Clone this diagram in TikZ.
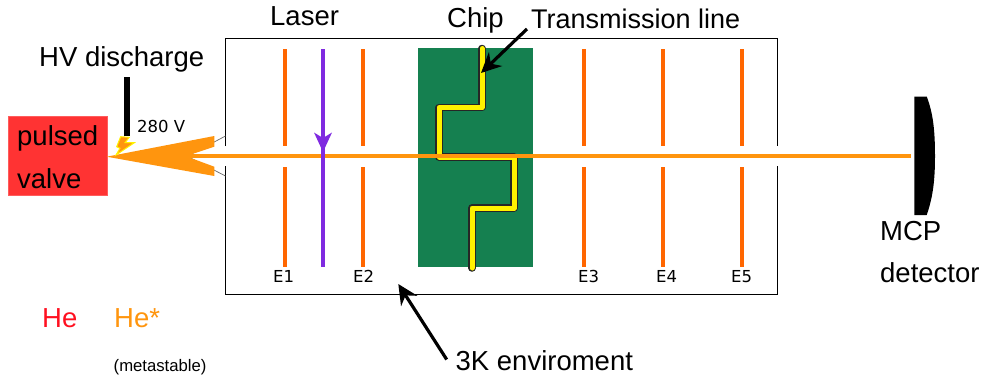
\documentclass[tikz,border=0pt]{standalone}
\usepackage{fontspec}
\setmainfont{Liberation Sans}
\newfontfamily\dejavu{DejaVu Sans}
\usetikzlibrary{arrows.meta}
\definecolor{electrode}{HTML}{FF6600}
\definecolor{beam}{HTML}{FF950E}
\definecolor{laserc}{HTML}{7F2AE0}
\definecolor{chipc}{HTML}{158050}
\definecolor{valvec}{HTML}{FF3333}
\definecolor{hered}{HTML}{FF1020}
\tikzset{
  x=1pt,y=-1pt,
  label24/.style={inner sep=0pt,anchor=base west,font=\fontsize{27.5}{27.5}\selectfont},
  small/.style={inner sep=0pt,anchor=base west,font=\dejavu\fontsize{16.5}{16.5}\selectfont},
  plate/.style={electrode,line width=4pt},
  callout/.style={black,line width=3.2pt,-{Stealth[length=20pt,width=19pt]}},
}
\begin{document}
\begin{tikzpicture}
\useasboundingbox (0,0) rectangle (983,378);
% cryostat box
\coordinate (b1) at (225.5,146);
\coordinate (b2) at (225.5,38);
\coordinate (b3) at (777.5,38);
\coordinate (b4) at (777.5,146);
\coordinate (b5) at (777.5,166);
\coordinate (b6) at (777.5,294.5);
\coordinate (b7) at (225.5,294.5);
\coordinate (b8) at (225.5,166);
\draw[black,line width=.9pt] (b1)--(b2)--(b3)--(b4);
\draw[black,line width=.9pt] (b5)--(b6)--(b7)--(b8);
\coordinate (s1) at (225.5,136);
\coordinate (s2) at (190.7,154.5);
\coordinate (s3) at (190.7,158);
\coordinate (s4) at (225.5,176);
\draw[black!60,line width=.7pt] (s1)--(s2);
\draw[black!60,line width=.7pt] (s3)--(s4);
% chip
\fill[chipc] (417.5,48) rectangle (532.5,267);
% transmission line
\coordinate (t1) at (482,48.5);
\coordinate (t2) at (482,107.5);
\coordinate (t3) at (439,107.5);
\coordinate (t4) at (439,157);
\coordinate (t5) at (514,157);
\coordinate (t6) at (514,208);
\coordinate (t7) at (472,208);
\coordinate (t8) at (472,268);
\draw[black!85,line width=7.5pt,line cap=round,line join=round] (t1)--(t2)--(t3)--(t4)--(t5)--(t6)--(t7)--(t8);
\draw[yellow,line width=5pt,line cap=round,line join=round] (t1)--(t2)--(t3)--(t4)--(t5)--(t6)--(t7)--(t8);
% electrodes
\foreach \n/\x in {1/284.7,2/362.7,3/584.2,4/662.7,5/741.7}{
  \coordinate (ea\n) at (\x,49);
  \coordinate (eb\n) at (\x,146);
  \coordinate (ec\n) at (\x,167);
  \coordinate (ed\n) at (\x,267);
  \draw[plate] (ea\n)--(eb\n);
  \draw[plate] (ec\n)--(ed\n);
}
% valve
\node[fill=valvec,draw=valvec!80!white,line width=.5pt,minimum width=99pt,minimum height=79pt,inner sep=0pt] (valve) at (57.5,155.5) {};
\node[label24] (pv1) at (17,145.5) {pulsed};
\node[label24] (pv2) at (17,188) {valve};
% beam
\coordinate (bm1) at (190,156);
\coordinate (bm2) at (910.7,156);
\draw[beam,line width=4.8pt] (bm1)--(bm2);
\path[fill=beam] (106.7,156.7)--(214.3,136)--(214.3,146.7)--(190.7,154.5)--(190.7,158)--(214.3,166.7)--(214.3,176)--cycle;
% laser
\coordinate (l1) at (323,49);
\coordinate (l2) at (323,267);
\coordinate (l3) at (323,152);
\draw[laserc,line width=4pt] (l1)--(l2);
\fill[laserc] (l3)--(314,132.5)--(323,138)--(332,132.5)--cycle;
% HV needle and spark
\coordinate (n1) at (127,77);
\coordinate (n2) at (127,136);
\draw[black,line width=5.5pt] (n1)--(n2);
\path[fill=beam,draw=yellow,line width=1pt] (120.7,136.7)--(129.3,137.3)--(125,142.7)--(134.3,142.7)--(116,155)--(120,148.3)--(116.7,146.7)--cycle;
% detector
\path[fill=black] (914.3,96.5) -- (926.7,96.5) .. controls (933,113) and (935,130) .. (935,156) .. controls (935,180) and (933,197) .. (926.7,215) -- (914.3,215) -- cycle;
% labels
\node[label24,font=\fontsize{27}{27}\selectfont] (tl) at (531,28) {Transmission line};
\node[label24] (chip) at (447,27.5) {Chip};
\node[label24] (laser) at (270,25.5) {Laser};
\node[label24] (hv) at (39,66) {HV discharge};
\node[label24] (mcp1) at (880,240.7) {MCP};
\node[label24] (mcp2) at (880,282.7) {detector};
\node[label24] (env) at (455.5,370) {3K enviroment};
\node[label24,text=hered] (he) at (42,327) {He};
\node[label24,text=beam] (hes) at (114,327) {He*};
\node[inner sep=0pt,anchor=base west,font=\fontsize{16.7}{16.7}\selectfont] (meta) at (113.5,371) {(metastable)};
\node[small] (volt) at (137,132) {280 V};
\node[small] (e1) at (273,282.5) {E1};
\node[small] (e2) at (353,282.5) {E2};
\node[small] (e3) at (578,282.5) {E3};
\node[small] (e4) at (656,282.5) {E4};
\node[small] (e5) at (731,282.5) {E5};
% arrows
\coordinate (a1) at (527,29);
\coordinate (a2) at (481,73);
\draw[callout] (a1)--(a2);
\coordinate (a3) at (446.7,359.5);
\coordinate (a4) at (398.3,284);
\draw[callout] (a3)--(a4);
\end{tikzpicture}
\end{document}
